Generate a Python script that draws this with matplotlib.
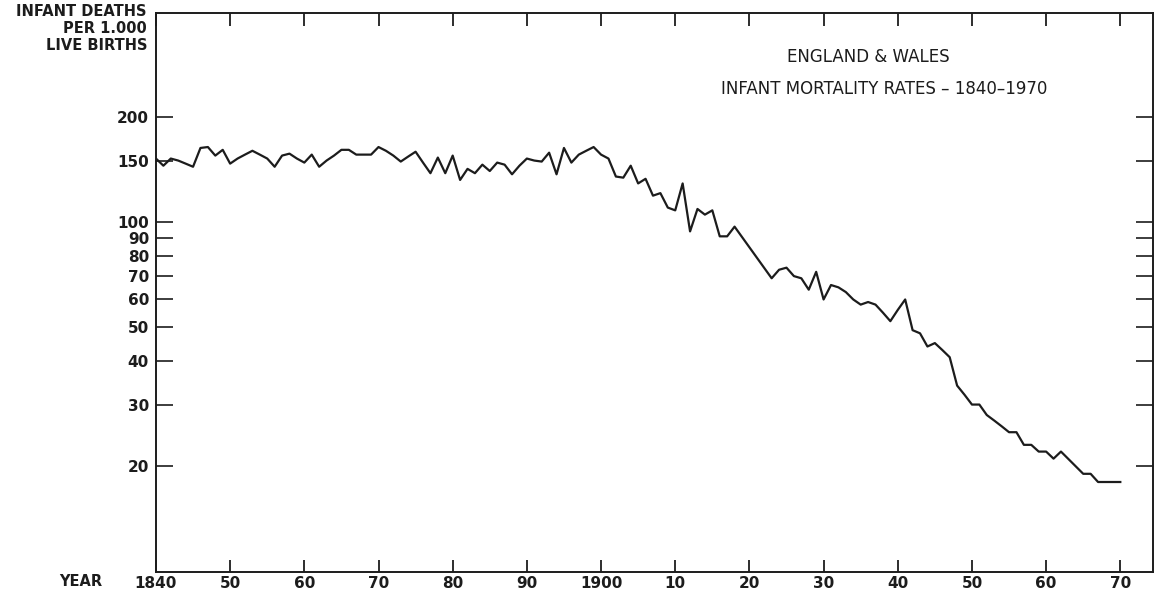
#!/usr/bin/env python3

import matplotlib
matplotlib.use("Agg")
import matplotlib.pyplot as plt
from matplotlib.ticker import FixedLocator, NullLocator

# infant deaths per 1,000 live births
years = [1840, 1841, 1842, 1843, 1844, 1845, 1846, 1847, 1848, 1849,
         1850, 1851, 1852, 1853, 1854, 1855, 1856, 1857, 1858, 1859,
         1860, 1861, 1862, 1863, 1864, 1865, 1866, 1867, 1868, 1869,
         1870, 1871, 1872, 1873, 1874, 1875, 1876, 1877, 1878, 1879,
         1880, 1881, 1882, 1883, 1884, 1885, 1886, 1887, 1888, 1889,
         1890, 1891, 1892, 1893, 1894, 1895, 1896, 1897, 1898, 1899,
         1900, 1901, 1902, 1903, 1904, 1905, 1906, 1907, 1908, 1909,
         1910, 1911, 1912, 1913, 1914, 1915, 1916, 1917, 1918,
         1923, 1924, 1925, 1926, 1927, 1928, 1929,
         1930, 1931, 1932, 1933, 1934, 1935, 1936, 1937, 1938, 1939,
         1940, 1941, 1942, 1943, 1944, 1945, 1946, 1947, 1948, 1949,
         1950, 1951, 1952, 1953, 1954, 1955, 1956, 1957, 1958, 1959,
         1960, 1961, 1962, 1965, 1966, 1967, 1968, 1969, 1970]
rates = [152, 145, 152, 150, 147, 144, 163, 164, 155, 161,
         147, 152, 156, 160, 156, 152, 144, 155, 157, 152,
         148, 156, 144, 150, 155, 161, 161, 156, 156, 156,
         164, 160, 155, 149, 154, 159, 148, 138, 153, 138,
         155, 132, 142, 138, 146, 140, 148, 146, 137, 145,
         152, 150, 149, 158, 137, 163, 148, 156, 160, 164,
         156, 152, 135, 134, 145, 129, 133, 119, 121, 110,
         108, 129, 94, 109, 105, 108, 91, 91, 97,
         69, 73, 74, 70, 69, 64, 72,
         60, 66, 65, 63, 60, 58, 59, 58, 55, 52,
         56, 60, 49, 48, 44, 45, 43, 41, 34, 32,
         30, 30, 28, 27, 26, 25, 25, 23, 23, 22,
         22, 21, 22, 19, 19, 18, 18, 18, 18]

xtick_years = [1840, 1850, 1860, 1870, 1880, 1890, 1900, 1910,
               1920, 1930, 1940, 1950, 1960, 1970]
xtick_labels = ["1840", "50", "60", "70", "80", "90", "1900", "10",
                "20", "30", "40", "50", "60", "70"]
ytick_values = [20, 30, 40, 50, 60, 70, 80, 90, 100, 150, 200]

ink = "#1c1c1c"
plt.rcParams['font.family'] = ['DejaVu Sans']

fig = plt.figure(figsize=(11.57, 5.91), dpi=100)
ax = fig.add_axes([0.1348, 0.0321, 0.8617, 0.9459])

ax.plot(years, rates, color=ink, linewidth=1.6)

ax.set_yscale('log')
ax.set_xlim(1840, 1974.4)
ax.set_ylim(9.94, 397)

ax.xaxis.set_major_locator(FixedLocator(xtick_years))
ax.set_xticklabels(xtick_labels)
ax.xaxis.set_minor_locator(NullLocator())
ax.yaxis.set_major_locator(FixedLocator(ytick_values))
ax.set_yticklabels([str(v) for v in ytick_values])
ax.yaxis.set_minor_locator(NullLocator())

ax.tick_params(axis='x', direction='in', top=True, length=9, width=1.3,
               pad=3, labelsize=11, colors=ink)
ax.tick_params(axis='y', direction='in', right=True, length=12, width=1.2,
               pad=5, labelsize=11, colors=ink)
for lab in ax.get_xticklabels() + ax.get_yticklabels():
    lab.set_fontweight('bold')

for s in ax.spines.values():
    s.set_linewidth(1.4)
    s.set_color(ink)

fig.text(147 / 1157, 1 - 4 / 591, "INFANT DEATHS\nPER 1.000\nLIVE BIRTHS",
         ha='right', va='top', fontsize=10.5, fontweight='bold', color=ink,
         linespacing=1.15)
fig.text(81 / 1157, 1 - 581 / 591, "YEAR", ha='center', va='center',
         fontsize=10.5, fontweight='bold', color=ink)

fig.text(868 / 1157, 1 - 57 / 591, "ENGLAND & WALES", ha='center',
         va='center', fontsize=12, color=ink)
fig.text(884 / 1157, 1 - 89 / 591, "INFANT MORTALITY RATES – 1840–1970",
         ha='center', va='center', fontsize=12, color=ink)

fig.savefig("out.png", dpi=100)
